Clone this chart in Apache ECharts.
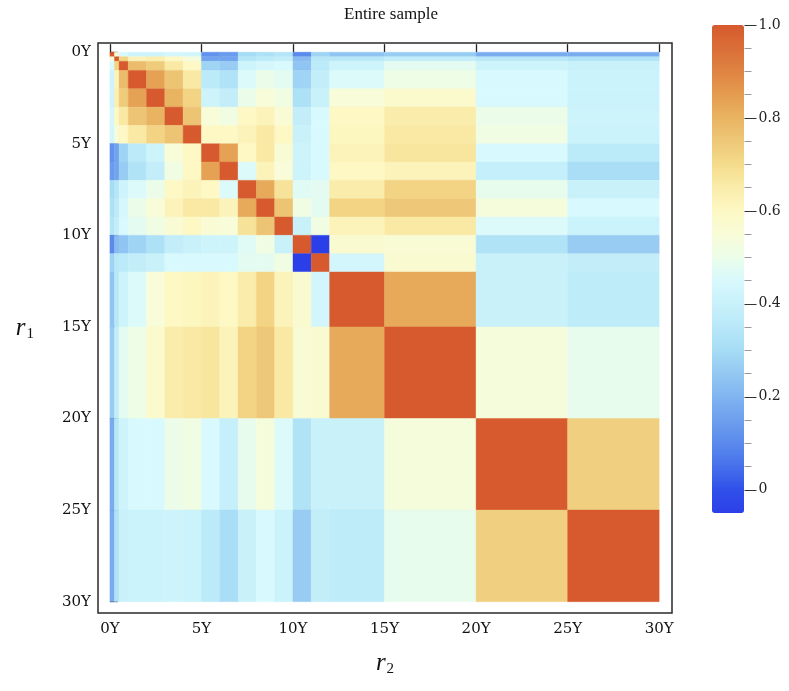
<!DOCTYPE html>
<html>
<head>
<meta charset="utf-8">
<script src="https://cdn.jsdelivr.net/npm/echarts@6/dist/echarts.min.js"></script>
<style>
  html, body { margin: 0; padding: 0; background: #fff; }
  #chart { width: 789px; height: 691px; }
</style>
</head>
<body>
<div id="chart"></div>
<script>
// maturity grid edges (years): 3M, 6M, 1Y, 2Y ... 12Y, 15Y, 20Y, 25Y, 30Y
var edges = [0, 0.25, 0.5, 1, 2, 3, 4, 5, 6, 7, 8, 9, 10, 11, 12, 15, 20, 25, 30]

// lower triangle of the correlation matrix, row i holds cols 0..i
var lower = [
  [1],
  [0.55, 1],
  [0.45, 0.72, 1],
  [0.42, 0.62, 0.78, 1],
  [0.42, 0.64, 0.74, 0.84, 1],
  [0.44, 0.6, 0.66, 0.76, 0.8, 1],
  [0.43, 0.54, 0.6, 0.66, 0.72, 0.76, 1],
  [0.12, 0.16, 0.28, 0.36, 0.42, 0.55, 0.6, 1],
  [0.14, 0.16, 0.26, 0.33, 0.38, 0.52, 0.6, 0.84, 1],
  [0.3, 0.34, 0.42, 0.46, 0.5, 0.6, 0.62, 0.6, 0.46, 1],
  [0.32, 0.36, 0.44, 0.5, 0.55, 0.62, 0.66, 0.66, 0.62, 0.82, 1],
  [0.34, 0.38, 0.45, 0.48, 0.52, 0.56, 0.6, 0.56, 0.55, 0.68, 0.76, 1],
  [0.1, 0.22, 0.24, 0.28, 0.32, 0.38, 0.4, 0.42, 0.42, 0.47, 0.52, 0.4, 1],
  [0.28, 0.35, 0.36, 0.38, 0.4, 0.45, 0.45, 0.45, 0.45, 0.48, 0.48, 0.52, -0.05, 1],
  [0.24, 0.35, 0.42, 0.46, 0.55, 0.6, 0.61, 0.62, 0.6, 0.65, 0.72, 0.62, 0.57, 0.43, 1],
  [0.26, 0.38, 0.48, 0.51, 0.58, 0.65, 0.66, 0.67, 0.62, 0.72, 0.75, 0.66, 0.56, 0.57, 0.82, 1],
  [0.18, 0.35, 0.42, 0.45, 0.45, 0.5, 0.52, 0.45, 0.39, 0.49, 0.54, 0.46, 0.33, 0.4, 0.4, 0.54, 1],
  [0.18, 0.33, 0.4, 0.41, 0.41, 0.42, 0.41, 0.36, 0.31, 0.4, 0.45, 0.41, 0.26, 0.38, 0.37, 0.49, 0.73, 1]
]

var axisTicks = [0, 5, 10, 15, 20, 25, 30]
var barMajor = [0, 0.2, 0.4, 0.6, 0.8, 1.0]
var barMinor = [0.05, 0.1, 0.15, 0.25, 0.3, 0.35, 0.45, 0.5, 0.55, 0.65, 0.7, 0.75, 0.85, 0.9, 0.95]

// temperature-map like palette, -0.05 .. 1.0
var palette = [
  '#2b3fe8', '#3050ea', '#4670eb', '#5a8aec', '#6d9fee', '#80b4f0', '#94c8f2',
  '#a6dcf5', '#b8e8f8', '#c8f1fa', '#d8f9fd', '#ebfde8', '#f8fcd8', '#fdf8c4',
  '#faecaa', '#f4dc8c', '#eec878', '#e9b462', '#e49c50', '#df8442', '#da6e38', '#d65a2e'
]

var cells = []
for (var i = 0; i < lower.length; i++) {
  for (var j = 0; j < lower.length; j++) {
    var v = j <= i ? lower[i][j] : lower[j][i]
    // [x0, x1, y0, y1, value]  x = r2 (column), y = r1 (row)
    cells.push([edges[j], edges[j + 1], edges[i], edges[i + 1], v])
  }
}

var serif = 'Liberation Serif'
var tickFont = 'DejaVu Serif'
var chart = echarts.init(document.getElementById('chart'))

chart.setOption({
  backgroundColor: '#fff',
  animation: false,
  title: {
    text: 'Entire sample',
    left: 339,
    top: 1,
    textStyle: { fontFamily: serif, fontWeight: 'normal', fontSize: 17, color: '#111' }
  },
  grid: [
    { left: 98, top: 43, width: 574, height: 570, show: true, borderColor: '#2a2a2a', borderWidth: 1.5, backgroundColor: '#fff' },
    { left: 700, top: 25, width: 44.5, height: 488, show: false },
    { left: 700, top: 25, width: 44.5, height: 488, show: false }
  ],
  xAxis: [
    {
      type: 'value', min: -0.65, max: 30.7,
      axisLine: { show: false },
      splitLine: { show: false },
      axisTick: { show: true, inside: true, length: 8, customValues: axisTicks, lineStyle: { color: '#222', width: 1.3 } },
      axisLabel: { customValues: axisTicks, formatter: '{value}Y', margin: 9, fontFamily: tickFont, fontSize: 15, color: '#111' },
      name: '{r|r}{s|2}',
      nameLocation: 'middle',
      nameGap: 37,
      nameTextStyle: {
        rich: {
          r: { fontFamily: serif, fontStyle: 'italic', fontSize: 25, color: '#111' },
          s: { fontFamily: serif, fontSize: 15, color: '#111', padding: [12, 0, 0, 1] }
        }
      }
    },
    { gridIndex: 1, type: 'value', show: false },
    { gridIndex: 2, type: 'value', show: false }
  ],
  yAxis: [
    {
      type: 'value', min: -0.5, max: 30.62, inverse: true,
      axisLine: { show: false },
      splitLine: { show: false },
      axisTick: { show: true, inside: true, length: 8, customValues: axisTicks, lineStyle: { color: '#222', width: 1.3 } },
      axisLabel: { customValues: axisTicks, formatter: '{value}Y', margin: 7, fontFamily: tickFont, fontSize: 15, color: '#111' },
      name: '{r|r}{s|1}',
      nameLocation: 'middle',
      nameRotate: 0,
      nameGap: 64,
      nameTextStyle: {
        rich: {
          r: { fontFamily: serif, fontStyle: 'italic', fontSize: 25, color: '#111' },
          s: { fontFamily: serif, fontSize: 15, color: '#111', padding: [12, 0, 0, 1] }
        }
      }
    },
    {
      gridIndex: 1, type: 'value', min: -0.05, max: 1, position: 'right',
      axisLine: { show: false, onZero: false },
      splitLine: { show: false },
      axisTick: { show: true, length: 12, customValues: barMajor, lineStyle: { color: '#333', width: 1 } },
      axisLabel: {
        customValues: barMajor, margin: 14, fontFamily: tickFont, fontSize: 14, color: '#222',
        formatter: function (v) { return v === 0 ? '0' : v.toFixed(1) }
      }
    },
    {
      gridIndex: 2, type: 'value', min: -0.05, max: 1, position: 'right',
      axisLine: { show: false, onZero: false },
      splitLine: { show: false },
      axisTick: { show: true, length: 7, customValues: barMinor, lineStyle: { color: '#999', width: 1 } },
      axisLabel: { show: false }
    }
  ],
  visualMap: {
    type: 'continuous',
    min: -0.05,
    max: 1,
    dimension: 4,
    seriesIndex: 0,
    calculable: false,
    hoverLink: false,
    orient: 'vertical',
    left: 712,
    top: 25,
    padding: 0,
    itemWidth: 32,
    itemHeight: 488,
    text: null,
    inRange: { color: palette }
  },
  series: [
    {
      type: 'custom',
      coordinateSystem: 'cartesian2d',
      encode: { x: [0, 1], y: [2, 3] },
      data: cells,
      renderItem: function (params, api) {
        var a = api.coord([api.value(0), api.value(2)])
        var b = api.coord([api.value(1), api.value(3)])
        var c = api.visual('color')
        return {
          type: 'rect',
          shape: {
            x: Math.min(a[0], b[0]),
            y: Math.min(a[1], b[1]),
            width: Math.abs(b[0] - a[0]),
            height: Math.abs(b[1] - a[1])
          },
          style: { fill: c, stroke: c, lineWidth: 0.4 }
        }
      }
    }
  ]
})
</script>
</body>
</html>
